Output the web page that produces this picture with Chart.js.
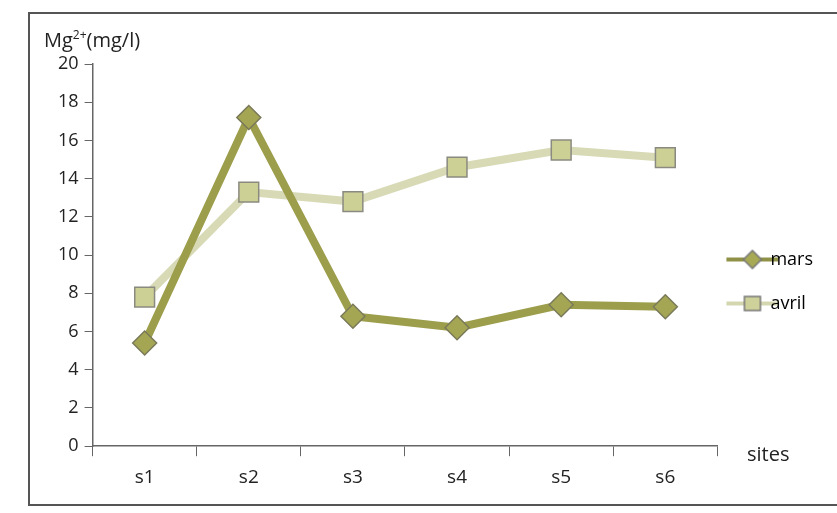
<!DOCTYPE html>
<html>
<head>
<meta charset="utf-8">
<script src="https://cdn.jsdelivr.net/npm/chart.js@4/dist/chart.umd.min.js"></script>
<style>
    body { margin: 0; background: #fff; }
    #wrap { position: relative; width: 837px; height: 513px; overflow: hidden; }
    #frame { position: absolute; left: 28px; top: 12px; width: 900px; height: 494px;
             border: 2px solid #555; box-sizing: border-box; }
    .lbl { position: absolute; font-family: "Open Sans", "Liberation Sans", sans-serif;
           font-size: 20px; color: #222; }
    canvas { position: absolute; left: 0; top: 0; }
</style>
</head>
<body>
<div id="wrap">
    <div id="frame"></div>
    <canvas id="mgChart" width="837" height="513"></canvas>
    <div class="lbl" style="left:44px; top:26px;">Mg<sup style="font-size:12px">2+</sup>(mg/l)</div>
    <div class="lbl" style="left:747px; top:440px;">sites</div>
</div>
<script>
var sites = ["s1", "s2", "s3", "s4", "s5", "s6"];
var mars = [5.4, 17.2, 6.8, 6.2, 7.4, 7.3];
var avril = [7.8, 13.3, 12.8, 14.6, 15.5, 15.1];

var ctx = document.getElementById("mgChart").getContext("2d");

function legendIcon(shape) {
    var c = document.createElement("canvas");
    c.width = 56;
    c.height = 24;
    var g = c.getContext("2d");
    g.lineWidth = 4;
    g.strokeStyle = shape == "diamond" ? "#8f9146" : "#d4d6b0";
    g.beginPath();
    g.moveTo(2, 12);
    g.lineTo(54, 12);
    g.stroke();
    g.lineWidth = 1.5;
    g.strokeStyle = "#777";
    if (shape == "diamond") {
        g.fillStyle = "#a7a955";
        g.beginPath();
        g.moveTo(28, 3);
        g.lineTo(37, 12);
        g.lineTo(28, 21);
        g.lineTo(19, 12);
        g.closePath();
        g.fill();
        g.stroke();
    } else {
        g.fillStyle = "#cfd19b";
        g.fillRect(20, 5, 16, 14);
        g.strokeRect(20, 5, 16, 14);
    }
    return c;
}

var marsIcon = legendIcon("diamond");
var avrilIcon = legendIcon("square");

var mgChart = new Chart(ctx, {
    type: 'line',
    data: {
        labels: sites,
        datasets: [
            {
                label: 'mars',
                data: mars,
                borderColor: "#9c9e4c",
                backgroundColor: "#a7a955",
                borderWidth: 8,
                pointStyle: 'rectRot',
                pointRadius: 12,
                pointBorderColor: "#7a7a5a",
                pointBorderWidth: 1.5,
                pointBackgroundColor: "#a4a653",
                tension: 0
            },
            {
                label: 'avril',
                data: avril,
                borderColor: "#d8dab6",
                backgroundColor: "#cfd19b",
                borderWidth: 8,
                pointStyle: 'rect',
                pointRadius: 14,
                pointBorderColor: "#8a8a80",
                pointBorderWidth: 1.5,
                pointBackgroundColor: "#cdd094",
                tension: 0
            }]
    },
    options: {
        responsive: false,
        animation: false,
        layout: {
            padding: { left: 52, top: 64, right: 14, bottom: 14 }
        },
        plugins: {
            legend: {
                position: 'right',
                labels: {
                    usePointStyle: true,
                    color: "#222",
                    padding: 26,
                    font: { family: "Open Sans", size: 18 },
                    generateLabels: function (chart) {
                        return [
                            { text: 'mars', pointStyle: marsIcon, datasetIndex: 0, lineWidth: 0 },
                            { text: 'avril', pointStyle: avrilIcon, datasetIndex: 1, lineWidth: 0 }
                        ];
                    }
                }
            },
            tooltip: { enabled: false }
        },
        scales: {
            x: {
                offset: true,
                border: { color: "#666", width: 1.5 },
                grid: { drawOnChartArea: false, offset: true, tickLength: 10, color: "#666" },
                ticks: { color: "#222", padding: 10, font: { family: "Open Sans", size: 19 } }
            },
            y: {
                min: 0,
                max: 20,
                border: { color: "#666", width: 1.5 },
                grid: { drawOnChartArea: false, tickLength: 8, color: "#666" },
                ticks: { stepSize: 2, color: "#222", padding: 6, font: { family: "Open Sans", size: 18 } }
            }
        }
    }
});
</script>
</body>
</html>
